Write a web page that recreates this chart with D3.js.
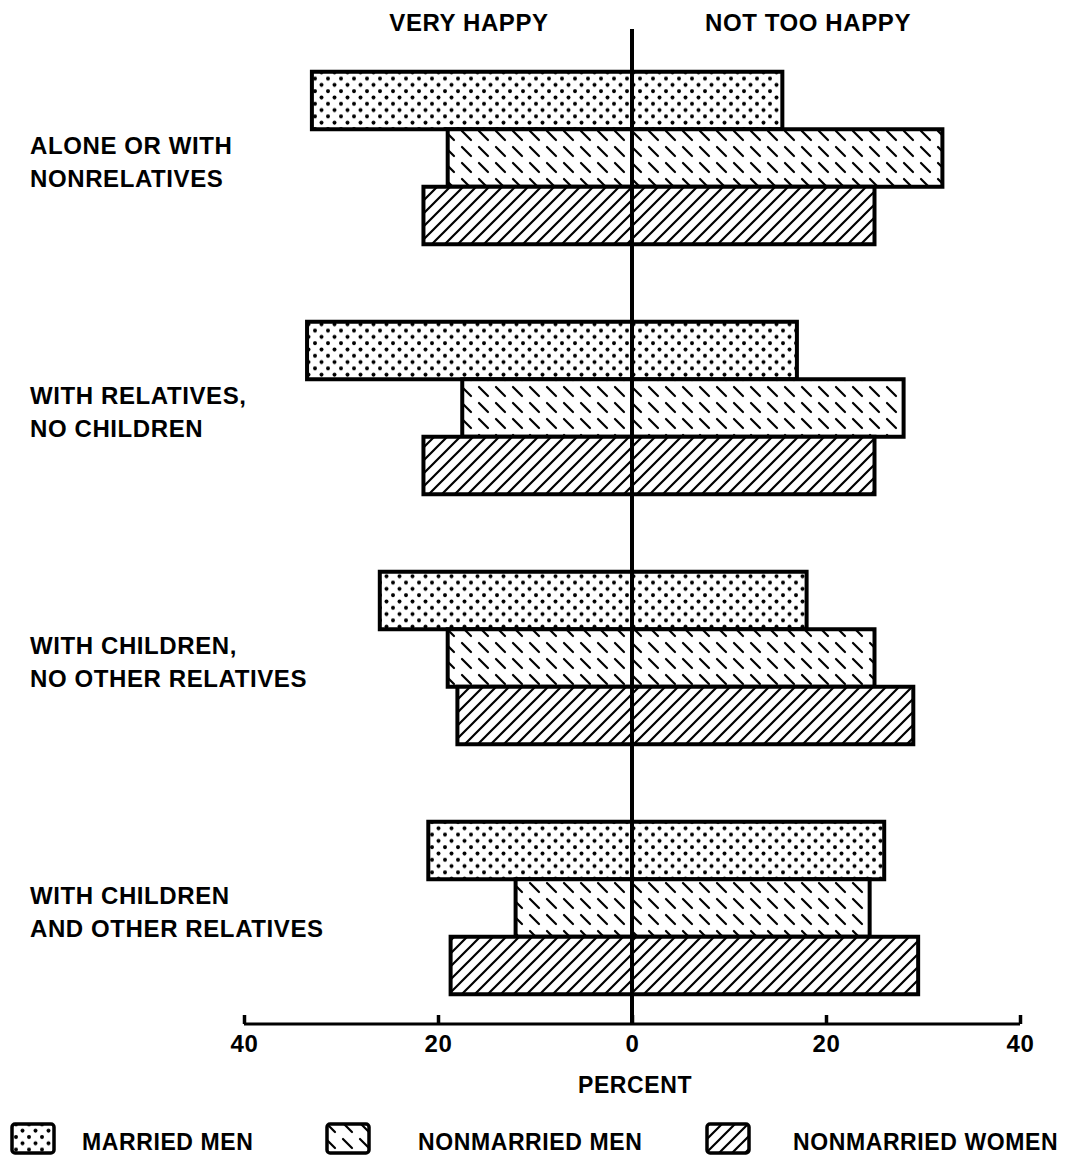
<!DOCTYPE html>
<html>
<head>
<meta charset="utf-8">
<script src="https://cdn.jsdelivr.net/npm/d3@7"></script>
<style>
  body { margin: 0; background: #fff; }
  text { font-family: "Liberation Sans", Arial, Helvetica, sans-serif; font-weight: bold; fill: #000; letter-spacing: 0.6px; }
</style>
</head>
<body>
<svg width="1076" height="1156"></svg>
<script>
// living arrangement groups (each label is two lines)
var groups = ["alone", "relatives", "children", "childrenRelatives"]
var groupLabels = [
  ["ALONE OR WITH", "NONRELATIVES"],
  ["WITH RELATIVES,", "NO CHILDREN"],
  ["WITH CHILDREN,", "NO OTHER RELATIVES"],
  ["WITH CHILDREN", "AND OTHER RELATIVES"]
]
var series = ["MARRIED MEN", "NONMARRIED MEN", "NONMARRIED WOMEN"]
var seriesPattern = ["dots", "dashes", "slashes"]

// percent very happy (drawn to the left) and not too happy (to the right)
var veryHappy = [
  [33, 19, 21.5],
  [33.5, 17.5, 21.5],
  [26, 19, 18],
  [21, 12, 18.7]
]
var notTooHappy = [
  [15.5, 32, 25],
  [17, 28, 25],
  [18, 25, 29],
  [26, 24.5, 29.5]
]
var tickValues = [-40, -20, 0, 20, 40]

var svg = d3.select("svg")

var x = d3.scaleLinear().domain([-40, 40]).range([244, 1020])
var y = d3.scaleBand().domain(groups).range([33, 1033]).paddingInner(0.31).paddingOuter(0.155)
var yInner = d3.scaleBand().domain(series).range([0, y.bandwidth()])

// fill patterns
var defs = svg.append("defs")
var dots = defs.append("pattern").attr("id", "dots")
  .attr("patternUnits", "userSpaceOnUse").attr("width", 13).attr("height", 12.6)
dots.append("rect").attr("width", 13).attr("height", 12.6).attr("fill", "#fff")
;[[3, 3], [9.5, 9.3]].forEach(p => {
  dots.append("circle").attr("cx", p[0]).attr("cy", p[1]).attr("r", 2).attr("fill", "#000")
})

var dashes = defs.append("pattern").attr("id", "dashes")
  .attr("patternUnits", "userSpaceOnUse").attr("width", 17).attr("height", 16)
dashes.append("rect").attr("width", 17).attr("height", 16).attr("fill", "#fff")
dashes.append("line").attr("x1", 3).attr("y1", 3).attr("x2", 12).attr("y2", 12)
  .attr("stroke", "#000").attr("stroke-width", 2.2).attr("stroke-linecap", "round")

var slashes = defs.append("pattern").attr("id", "slashes")
  .attr("patternUnits", "userSpaceOnUse").attr("width", 13).attr("height", 13)
slashes.append("rect").attr("width", 13).attr("height", 13).attr("fill", "#fff")
slashes.append("path").attr("d", "M-1,14 L14,-1 M-3,3 L3,-3 M10,16 L16,10")
  .attr("stroke", "#000").attr("stroke-width", 2.2)

// bars
var rows = []
groups.forEach((g, gi) => {
  series.forEach((s, si) => {
    rows.push({group: g, series: s, pattern: seriesPattern[si], left: veryHappy[gi][si], right: notTooHappy[gi][si]})
  })
})

svg.append("g").selectAll("rect")
  .data(rows)
  .enter()
  .append("rect")
  .attr("x", d => x(-d.left))
  .attr("y", d => y(d.group) + yInner(d.series))
  .attr("width", d => x(d.right) - x(-d.left))
  .attr("height", yInner.bandwidth())
  .attr("fill", d => "url(#" + d.pattern + ")")
  .attr("stroke", "#000")
  .attr("stroke-width", 4)

// center line
svg.append("line")
  .attr("x1", x(0)).attr("x2", x(0))
  .attr("y1", 29).attr("y2", 1024)
  .attr("stroke", "#000").attr("stroke-width", 4)

// headers
svg.append("text").attr("x", 469).attr("y", 31).attr("text-anchor", "middle")
  .style("font-size", "24px").text("VERY HAPPY")
svg.append("text").attr("x", 808).attr("y", 31).attr("text-anchor", "middle")
  .style("font-size", "24px").text("NOT TOO HAPPY")

// group labels
var lab = svg.append("g").selectAll("text")
  .data(groups)
  .enter()
  .append("text")
  .attr("x", 30)
  .attr("y", d => y(d) + y.bandwidth() / 2 - 4)
  .style("font-size", "24px")
lab.append("tspan").attr("x", 30).text((d, i) => groupLabels[i][0])
lab.append("tspan").attr("x", 30).attr("dy", 33).text((d, i) => groupLabels[i][1])

// bottom axis
var axis = svg.append("g").attr("transform", "translate(0,1024)")
  .call(d3.axisBottom(x).tickValues(tickValues).tickFormat(d => Math.abs(d)).tickSize(0))
axis.select(".domain").attr("stroke", "#000").attr("stroke-width", 3)
  .attr("d", "M" + x(-40) + ",0H" + x(40))
axis.selectAll(".tick line").attr("y2", -9).attr("stroke", "#000").attr("stroke-width", 3.5)
axis.selectAll(".tick text").attr("y", 11).attr("dy", "0.71em")
  .style("font-size", "24px").style("font-family", "'Liberation Sans', Arial, sans-serif").style("font-weight", "bold")

svg.append("text").attr("x", x(0) + 3).attr("y", 1093).attr("text-anchor", "middle")
  .style("font-size", "23px").text("PERCENT")

// legend
var legendX = [12, 327, 707]
var legendTextX = [82, 418, 793]
var legend = svg.append("g").selectAll("g")
  .data(series)
  .enter()
  .append("g")
legend.append("rect")
  .attr("x", (d, i) => legendX[i]).attr("y", 1124)
  .attr("width", 42).attr("height", 29).attr("rx", 3)
  .attr("fill", (d, i) => "url(#" + seriesPattern[i] + ")")
  .attr("stroke", "#000").attr("stroke-width", 3.5)
legend.append("text")
  .attr("x", (d, i) => legendTextX[i]).attr("y", 1150)
  .style("font-size", "23px")
  .text(d => d)
</script>
</body>
</html>
